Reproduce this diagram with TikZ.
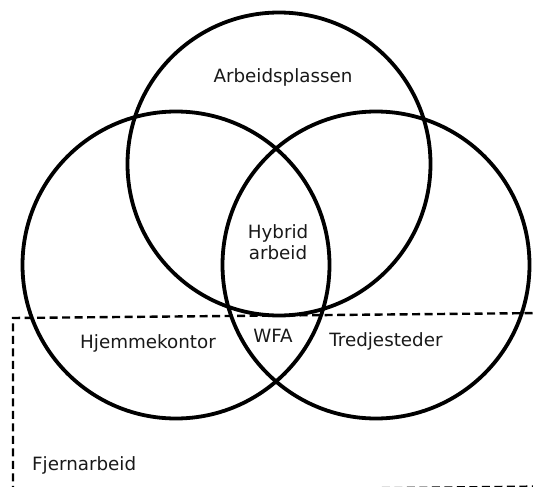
\documentclass[tikz,border=0pt]{standalone}
\usepackage{fontspec}
\setmainfont{DejaVu Sans}
\begin{document}
\begin{tikzpicture}[x=1pt,y=-1pt,
  ring/.style={draw=black,line width=3.8pt},
  zone/.style={draw=black,line width=2.4pt,dash pattern=on 8pt off 4.5pt},
  lbl/.style={font=\fontsize{18.3}{21.5}\selectfont,text=black!90,align=center,inner sep=0pt}]
  \useasboundingbox (0,0) rectangle (533,487);
  \clip (0,0) rectangle (533,487);
  % remote work area, slightly tilted dashed frame
  \coordinate (ztl) at (13,318);
  \coordinate (ztr) at (545,313);
  \coordinate (zbl) at (13,492);
  \coordinate (zbr) at (545,486.5);
  \draw[zone] (ztr) -- (ztl) -- (zbl) -- (zbr);
  % the three places of work
  \node[ring,circle,minimum size=303pt,inner sep=0pt] (work) at (279,164) {};
  \node[ring,circle,minimum size=307pt,inner sep=0pt] (home) at (176,265) {};
  \node[ring,circle,minimum size=307pt,inner sep=0pt] (third) at (376,265) {};
  % labels
  \node[lbl] (lwork) at (283,77) {Arbeidsplassen};
  \node[lbl] (lhyb) at (278,242) {Hybrid\\arbeid};
  \node[lbl] (lwfa) at (273,336) {WFA};
  \node[lbl] (lhome) at (148,343) {Hjemmekontor};
  \node[lbl] (lthird) at (386,341) {Tredjesteder};
  \node[lbl,anchor=west] (lremote) at (32,465) {Fjernarbeid};
\end{tikzpicture}
\end{document}
